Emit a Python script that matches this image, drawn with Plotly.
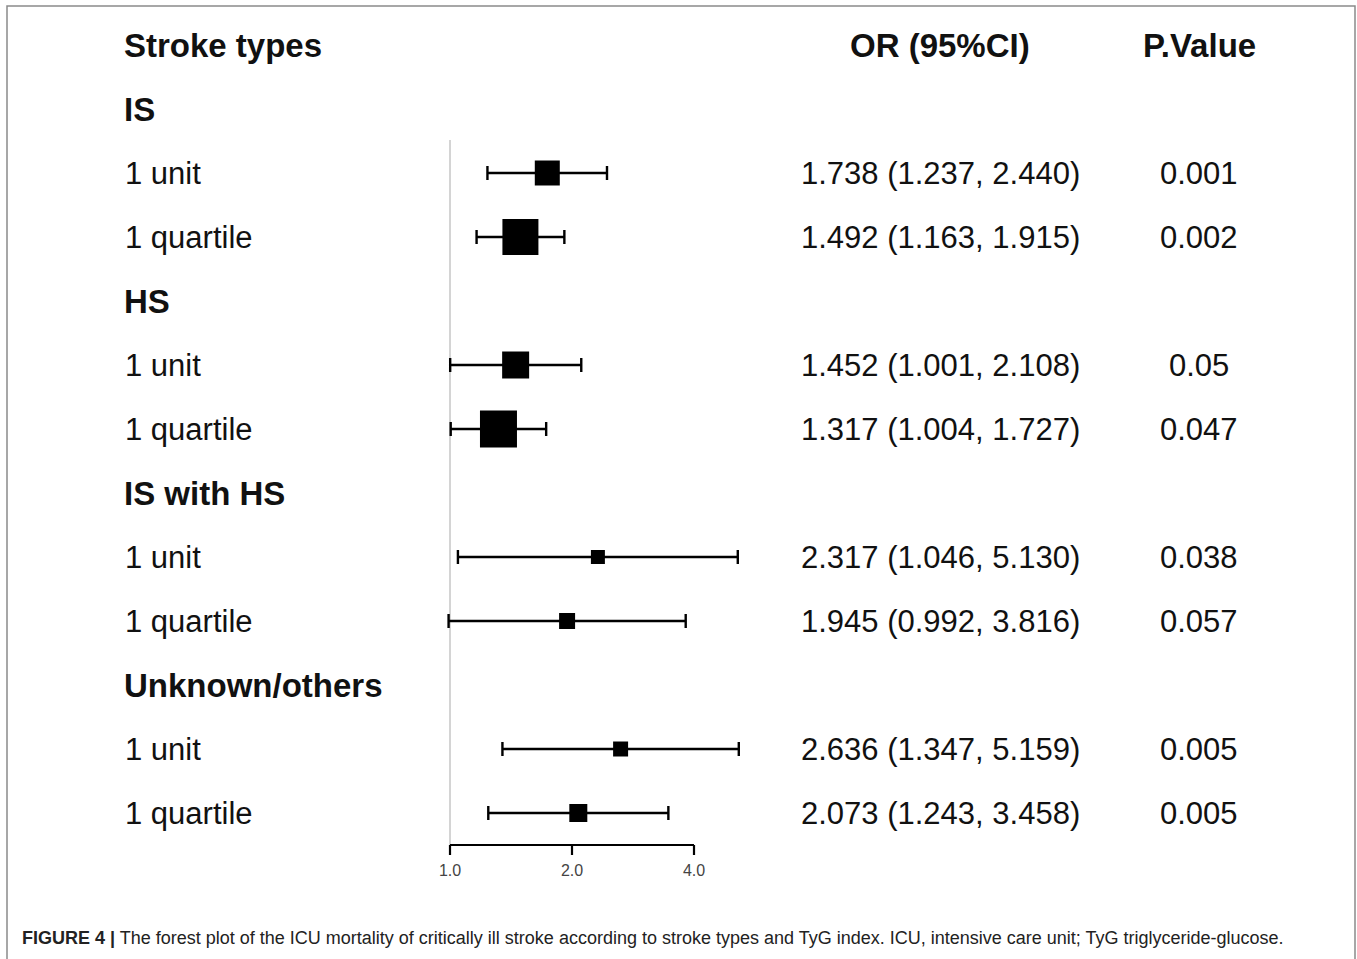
import math
import plotly.graph_objects as go

# ---------------- data ----------------
groups = ["IS", "HS", "IS with HS", "Unknown/others"]
sub_labels = ["1 unit", "1 quartile"]
or_vals = [1.738, 1.492, 1.452, 1.317, 2.317, 1.945, 2.636, 2.073]
ci_low = [1.237, 1.163, 1.001, 1.004, 1.046, 0.992, 1.347, 1.243]
ci_high = [2.440, 1.915, 2.108, 1.727, 5.130, 3.816, 5.159, 3.458]
or_text = ["1.738 (1.237, 2.440)", "1.492 (1.163, 1.915)",
           "1.452 (1.001, 2.108)", "1.317 (1.004, 1.727)",
           "2.317 (1.046, 5.130)", "1.945 (0.992, 3.816)",
           "2.636 (1.347, 5.159)", "2.073 (1.243, 3.458)"]
p_text = ["0.001", "0.002", "0.05", "0.047", "0.038", "0.057", "0.005", "0.005"]
tick_vals = [1.0, 2.0, 4.0]
tick_text = ["1.0", "2.0", "4.0"]
ref_value = 1.0
caption_bold = "FIGURE 4 |"
caption_rest = (" The forest plot of the ICU mortality of critically ill stroke according to "
                "stroke types and TyG index. ICU, intensive care unit; TyG triglyceride-glucose.")

# ---------------- style ----------------
box_px = [25, 36, 27, 37, 14, 16, 15, 18]   # marker size (weight)
W, H = 1357, 959
FONT = "Liberation Sans, Arial, Helvetica, sans-serif"
TXT = "#111111"

# row layout: header row 0, then group heading + 2 rows each
row_y = []
group_y = []
k = 1
for g in groups:
    group_y.append(k)
    row_y.append(k + 1)
    row_y.append(k + 2)
    k += 3
row_labels = sub_labels * len(groups)

y0_px, row_px = 45.0, 64.0
def px_to_row(p):
    return (p - y0_px) / row_px

x_one_px = 450.0
px_per_dec = 122.0 / math.log10(2)
x_range = [-x_one_px / px_per_dec, (W - x_one_px) / px_per_dec]
y_range = [px_to_row(H), px_to_row(0)]

axis_row = px_to_row(845)
tick_end_row = px_to_row(855)
tick_lab_row = px_to_row(872)
ref_top_row = px_to_row(140)

fig = go.Figure()

# reference line at OR = 1
fig.add_trace(go.Scatter(x=[ref_value, ref_value], y=[ref_top_row, axis_row], mode="lines",
                         line=dict(color="#d4d4d4", width=2), hoverinfo="skip", showlegend=False))

# estimates with CI
fig.add_trace(go.Scatter(
    x=or_vals, y=row_y, mode="markers",
    marker=dict(symbol="square", size=box_px, color="black", opacity=1, line=dict(width=0)),
    error_x=dict(type="data", symmetric=False,
                 array=[h - o for h, o in zip(ci_high, or_vals)],
                 arrayminus=[o - l for o, l in zip(or_vals, ci_low)],
                 color="black", thickness=2.4, width=7),
    showlegend=False))

# x axis line and ticks (drawn through the log scale)
fig.add_trace(go.Scatter(x=[tick_vals[0], tick_vals[-1]], y=[axis_row, axis_row], mode="lines",
                         line=dict(color="black", width=2.2), hoverinfo="skip", showlegend=False))
tx, ty = [], []
for v in tick_vals:
    tx += [v, v, None]
    ty += [axis_row, tick_end_row, None]
fig.add_trace(go.Scatter(x=tx, y=ty, mode="lines", line=dict(color="black", width=2.2),
                         hoverinfo="skip", showlegend=False))
fig.add_trace(go.Scatter(x=tick_vals, y=[tick_lab_row] * len(tick_vals), mode="text",
                         text=tick_text, textfont=dict(family=FONT, size=16, color="#444444"),
                         hoverinfo="skip", showlegend=False))

ann = []
def add_text(x_px, y, text, size, bold=False, anchor="left", color=TXT):
    ann.append(dict(x=x_px / W, xref="paper", y=y, yref="y", text=(f"<b>{text}</b>" if bold else text),
                    showarrow=False, xanchor=anchor, yanchor="middle",
                    font=dict(family=FONT, size=size, color=color)))

LEFT = 122
add_text(LEFT, 0, "Stroke types", 33, bold=True)
add_text(940, 0, "OR (95%CI)", 33, bold=True, anchor="center")
add_text(1199, 0, "P.Value", 33, bold=True, anchor="center")
for g, gy in zip(groups, group_y):
    add_text(LEFT, gy, g, 33, bold=True)
for lab, ry, ot, pt in zip(row_labels, row_y, or_text, p_text):
    add_text(LEFT + 1, ry, lab, 31)
    add_text(1082, ry, ot, 31, anchor="right")
    add_text(1199, ry, pt, 31, anchor="center")

# caption
ann.append(dict(x=20 / W, xref="paper", y=1 - 938 / H, yref="paper", xanchor="left", yanchor="middle",
                showarrow=False, text=f"<b>{caption_bold}</b>{caption_rest}",
                font=dict(family=FONT, size=18, color="#222222")))

fig.update_layout(
    width=W, height=H, margin=dict(l=0, r=0, t=0, b=0),
    paper_bgcolor="white", plot_bgcolor="white",
    xaxis=dict(type="log", range=x_range, visible=False, domain=[0, 1], fixedrange=True),
    yaxis=dict(range=y_range, visible=False, domain=[0, 1], fixedrange=True),
    annotations=ann,
    shapes=[dict(type="rect", xref="paper", yref="paper", x0=7 / W, x1=1355 / W,
                 y0=-0.05, y1=1 - 6 / H, line=dict(color="#8a8a8a", width=1.5),
                 fillcolor="rgba(0,0,0,0)")],
)

fig.write_html("out.html", config={"displayModeBar": False},
               post_script="document.body.style.margin='0';document.body.style.overflow='hidden';")
